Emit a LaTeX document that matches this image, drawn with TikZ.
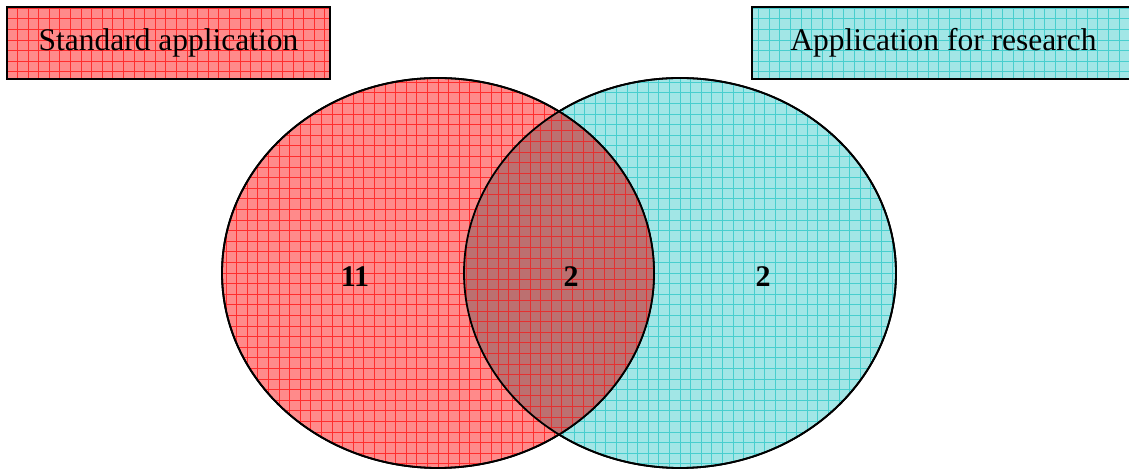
\documentclass[tikz,border=0pt]{standalone}
\usepackage{fontspec}
\setmainfont{Liberation Serif}
\usetikzlibrary{shapes.geometric}
\definecolor{redbg}{RGB}{255,138,138}
\definecolor{redln}{RGB}{255,45,45}
\definecolor{cyanbg}{RGB}{162,230,230}
\definecolor{cyanln}{RGB}{72,206,206}
\definecolor{mixbg}{RGB}{188,112,112}
\definecolor{mixln}{RGB}{228,48,48}
\begin{document}
\begin{tikzpicture}[x=1pt,y=1pt,
  % light fill crossed by a fine grid of darker lines
  hatch/.style 2 args={path picture={
    \fill[#1] (path picture bounding box.south west) rectangle (path picture bounding box.north east);
    \draw[#2, line width=0.9pt, step=10.6] (path picture bounding box.south west) grid (path picture bounding box.north east);}},
  setbox/.style={draw=black, line width=2pt, inner sep=0pt, minimum height=72, font=\fontsize{31.5}{36}\selectfont},
  setshape/.style={ellipse, draw=black, line width=1.8pt, inner sep=0pt, minimum width=432, minimum height=390},
  count/.style={font=\fontsize{30}{36}\selectfont\bfseries, inner sep=0pt}]
\useasboundingbox (0,0) rectangle (1129,470);

% the two sets
\node[setshape, hatch={cyanbg}{cyanln}] (research) at (680,197) {};
\node[setshape, hatch={redbg}{redln}] (standard) at (438,197) {};

% intersection of both sets
\begin{scope}
  \clip (research.center) ellipse [x radius=216, y radius=195];
  \clip (standard.center) ellipse [x radius=216, y radius=195];
  \fill[mixbg] (0,0) rectangle (1129,470);
  \draw[mixln, line width=0.9pt, step=10.6] (0,0) grid (1129,470);
\end{scope}
\draw[line width=1.8pt] (research.center) ellipse [x radius=216, y radius=195];
\draw[line width=1.8pt] (standard.center) ellipse [x radius=216, y radius=195];

% legend boxes
\node[setbox, hatch={redbg}{redln}, minimum width=323] (lstd) at (168.5,427) {Standard application};
\node[setbox, hatch={cyanbg}{cyanln}, minimum width=383] (lres) at (943.5,427) {Application for research};

% counts
\node[count] (nstd) at (355,193) {11};
\node[count] (nboth) at (571,193) {2};
\node[count] (nres) at (763,193) {2};
\end{tikzpicture}
\end{document}
